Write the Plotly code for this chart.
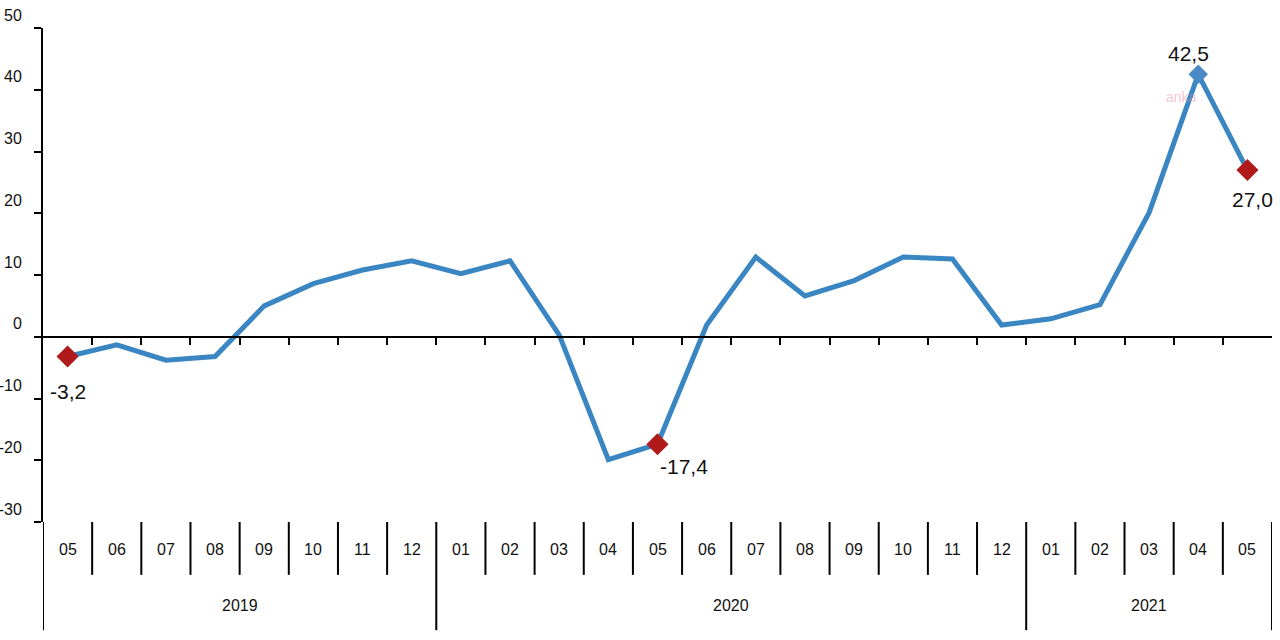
import plotly.graph_objects as go

months = ["05", "06", "07", "08", "09", "10", "11", "12",
          "01", "02", "03", "04", "05", "06", "07", "08", "09", "10", "11", "12",
          "01", "02", "03", "04", "05"]
years = ["2019", "2020", "2021"]
year_counts = [8, 12, 5]
values = [-3.2, -1.3, -3.8, -3.2, 5.0, 8.6, 10.8, 12.3,
          10.2, 12.3, 0.3, -19.9, -17.4, 1.9, 12.9, 6.6, 9.1, 12.9, 12.6, 1.9,
          2.9, 5.2, 20.1, 42.5, 27.0]
labelled_idx = [0, 12, 23, 24]
label_texts = ["-3,2", "-17,4", "42,5", "27,0"]
y_ticks = [-30, -20, -10, 0, 10, 20, 30, 40, 50]

FONT = "Liberation Sans, Arial, sans-serif"
BLUE = "#3a86c2"
RED = "#b01a1a"

xs = [i + 0.5 for i in range(len(values))]

fig = go.Figure()
fig.add_trace(go.Scatter(x=xs, y=values, mode="lines",
                         line=dict(color=BLUE, width=5), hoverinfo="skip",
                         showlegend=False))
red_idx = [0, 12, 24]
fig.add_trace(go.Scatter(x=[xs[i] for i in red_idx], y=[values[i] for i in red_idx],
                         mode="markers",
                         marker=dict(symbol="diamond", size=17, color=RED),
                         showlegend=False))
fig.add_trace(go.Scatter(x=[xs[23]], y=[values[23]], mode="markers",
                         marker=dict(symbol="diamond", size=15, color="#4a88c8"),
                         showlegend=False))

# data labels
offsets = {0: (0, -35, "center"), 12: (0, -22, "left"), 23: (-10, 21, "center"), 24: (5, -29, "center")}
annotations = []
for i, t in zip(labelled_idx, label_texts):
    dx, dy, al = offsets[i]
    annotations.append(dict(x=xs[i], y=values[i], xref="x", yref="y", text=t,
                            showarrow=False, xshift=dx, yshift=dy, xanchor=al,
                            font=dict(family=FONT, size=21, color="#111")))

# watermark
annotations.append(dict(x=xs[23] - 0.35, y=38.8, xref="x", yref="y", text="anka",
                        showarrow=False, font=dict(family=FONT, size=14,
                                                   color="rgba(235,150,165,0.55)")))

# month labels
MONTH_Y = -0.0547
YEAR_Y = -0.170
for i, m in enumerate(months):
    annotations.append(dict(x=xs[i], y=MONTH_Y, xref="x", yref="paper", text=m,
                            showarrow=False, yanchor="middle",
                            font=dict(family=FONT, size=16, color="#111")))

# year labels and dividers
shapes = []
bounds = [0]
for c in year_counts:
    bounds.append(bounds[-1] + c)
for k, yname in enumerate(years):
    mid = (bounds[k] + bounds[k + 1]) / 2
    annotations.append(dict(x=mid, y=YEAR_Y, xref="x", yref="paper", text=yname,
                            showarrow=False, yanchor="middle",
                            font=dict(family=FONT, size=16, color="#111")))
for b in range(len(values) + 1):
    y1 = -0.219 if b in bounds else -0.107
    shapes.append(dict(type="line", xref="x", yref="paper", x0=b, x1=b, y0=0, y1=y1,
                       line=dict(color="black", width=2)))

fig.update_layout(
    width=1280, height=640,
    margin=dict(l=43, r=8, t=28, b=118, autoexpand=False),
    plot_bgcolor="white", paper_bgcolor="white",
    font=dict(family=FONT, size=15, color="#111"),
    annotations=annotations, shapes=shapes,
    xaxis=dict(range=[0, len(values)], anchor="free", position=0.375,
               showline=True, linecolor="black", linewidth=2,
               ticks="outside", ticklen=7, tickwidth=2, tickcolor="black",
               tickvals=list(range(1, len(values))), showticklabels=False,
               showgrid=False, zeroline=False, fixedrange=True, automargin=False),
    yaxis=dict(range=[-30, 50], tickvals=y_ticks, ticktext=[str(v) for v in y_ticks],
               showline=True, linecolor="black", linewidth=2,
               ticks="outside", ticklen=7, tickwidth=2, tickcolor="black",
               ticklabelshift=-13, ticklabelstandoff=9,
               tickfont=dict(family=FONT, size=16, color="#111"),
               showgrid=False, zeroline=False, fixedrange=True, automargin=False),
)

fig.write_html("out.html", config={"displayModeBar": False},
               post_script="document.body.style.margin='0';document.body.style.overflow='hidden';")
